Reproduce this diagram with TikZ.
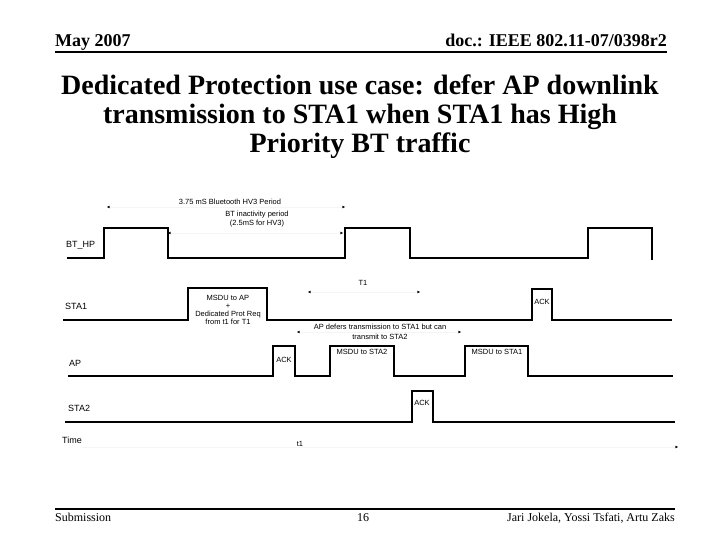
\documentclass[tikz,border=0pt]{standalone}
\usepackage{fontspec}
\setmainfont{Liberation Serif}
\setsansfont{Liberation Sans}
\usetikzlibrary{positioning,arrows.meta}
\tikzset{
  wave/.style={line width=2.6pt,line join=miter,draw=black},
  dimline/.style={{Stealth[length=3pt,width=2.6pt,color=black]}-{Stealth[length=3pt,width=2.6pt,color=black]},draw=black!4,line width=0.3pt},
  axisline/.style={-{Stealth[length=3pt,width=2.6pt,color=black]},draw=black!4,line width=0.3pt},
  sig/.style={font=\sffamily\fontsize{9}{10}\selectfont,anchor=west,inner sep=0pt},
  tag/.style={font=\sffamily\fontsize{7.5}{7.8}\selectfont,align=center,inner sep=0pt},
  hdr/.style={font=\bfseries\fontsize{18}{20}\selectfont,inner sep=0pt},
  ftr/.style={font=\fontsize{12}{14}\selectfont,inner sep=0pt},
  rule/.style={line width=2.5pt}
}

\begin{document}
\begin{tikzpicture}[x=1pt,y=-1pt]
  \useasboundingbox[fill=white] (0,0) rectangle (720,540);
  % header and title
  \node[hdr,anchor=base west] (hdrdate) at (55,47) {May 2007};
  \node[hdr,anchor=base east] (hdrdoc) at (667,47) {doc.: IEEE 802.11-07/0398r2};
  \coordinate (hdrL) at (55,52);
  \coordinate (hdrR) at (667,52);
  \draw[rule] (hdrL) -- (hdrR);
  \node[font=\bfseries\fontsize{28}{29}\selectfont,align=center] (title) at (360,117)
    {Dedicated Protection use case: defer AP downlink\\transmission to STA1 when STA1 has High\\Priority BT traffic};

  % signal names
  \node[sig] (bthp) at (66,245) {BT\_HP};
  \node[sig] (sta1) at (65,306) {STA1};
  \node[sig] (ap) at (69,363) {AP};
  \node[sig] (sta2) at (68,408) {STA2};
  \node[sig] (time) at (62,440) {Time};
  \node[tag] (tone) at (300,444) {t1};

  % waveforms
  \draw[wave] (67,258) -- (104,258) -- (104,228) -- (168,228) -- (168,258) -- (345,258)
    -- (345,228) -- (410,228) -- (410,258) -- (588,258) -- (588,228) -- (652,228) -- (652,260);
  \draw[wave] (63,320) -- (188,320) -- (188,288) -- (267,288) -- (267,320) -- (532,320)
    -- (532,289) -- (552,289) -- (552,320) -- (672,320);
  \draw[wave] (68,376) -- (273,376) -- (273,346) -- (295,346) -- (295,376) -- (330,376)
    -- (330,346) -- (394,346) -- (394,376) -- (465,376) -- (465,346) -- (528,346)
    -- (528,376) -- (673,376);
  \draw[wave] (65,422) -- (412,422) -- (412,391) -- (433,391) -- (433,422) -- (675,422);

  % frame labels
  \node[tag] (msduap) at (228,310) {MSDU to AP\\+\\Dedicated Prot Req\\from t1 for T1};
  \node[tag] (ackone) at (542,302) {ACK};
  \node[tag] (ackap) at (284,360) {ACK};
  \node[tag] (msdutwo) at (362,352) {MSDU to STA2};
  \node[tag] (msduone) at (497,352) {MSDU to STA1};
  \node[tag] (acktwo) at (422,403) {ACK};

  % periods
  \coordinate (btL) at (107,207);
  \coordinate (btR) at (345,207);
  \draw[dimline] (btL) -- (btR);
  \node[tag] (btper) at (230,202) {3.75 mS Bluetooth HV3 Period};
  \coordinate (inL) at (168,233);
  \coordinate (inR) at (343,233);
  \draw[dimline] (inL) -- (inR);
  \node[tag,font=\sffamily\fontsize{7.5}{8.5}\selectfont] (inact) at (257,219) {BT inactivity period\\(2.5mS for HV3)};
  \coordinate (tL) at (308,292);
  \coordinate (tR) at (420,292);
  \draw[dimline] (tL) -- (tR);
  \node[tag] (tper) at (363,283) {T1};
  \coordinate (dfL) at (297,332);
  \coordinate (dfR) at (461,332);
  \draw[dimline] (dfL) -- (dfR);
  \node[tag,font=\sffamily\fontsize{7.5}{9.5}\selectfont] (defer) at (380,332) {AP defers transmission to STA1 but can\\transmit to STA2};
  \coordinate (axR) at (678,447);
  \draw[axisline] (time.east |- axR) -- (axR);

  % footer
  \coordinate (ftL) at (55,509);
  \coordinate (ftR) at (675,509);
  \draw[rule] (ftL) -- (ftR);
  \node[ftr,anchor=base west] (ftsub) at (55,521) {Submission};
  \node[ftr,anchor=base] (ftpage) at (363,521) {16};
  \node[ftr,anchor=base east] (ftauth) at (675,521) {Jari Jokela, Yossi Tsfati, Artu Zaks};
\end{tikzpicture}
\end{document}
